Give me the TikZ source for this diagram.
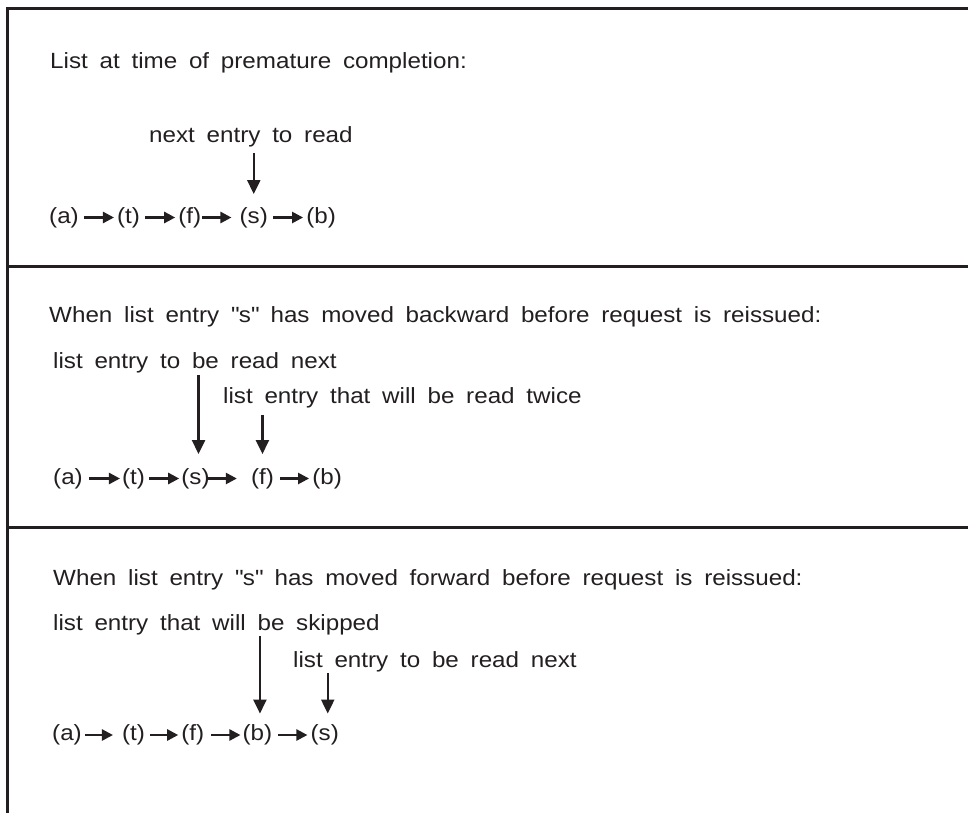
\documentclass[tikz,border=0pt]{standalone}
\usepackage{fontspec}
\setmainfont[FakeStretch=1.1,WordSpace=1.75]{Liberation Sans}
\usetikzlibrary{arrows.meta,positioning}
\definecolor{inkgray}{RGB}{35,31,32}
\tikzset{
 caption/.style={anchor=base west,inner sep=0pt,text=inkgray,font=\fontsize{22}{26}\selectfont},
 entry/.style={inner sep=0pt,text=inkgray,font=\fontsize{22}{26}\selectfont},
 link/.style={-{Triangle[length=11pt,width=11pt]},line width=2.4pt,draw=inkgray,shorten <=5pt,shorten >=3pt},
 pointer/.style={-{Triangle[length=14pt,width=13pt]},line width=2.2pt,draw=inkgray},
 rule/.style={line width=3pt,draw=inkgray}}
\begin{document}
\begin{tikzpicture}[x=1pt,y=-1pt,node distance=38pt]
\useasboundingbox (0,0) rectangle (968,813);
\draw[rule] (7,813) -- (7,9) -- (968,9); \draw[rule] (7,266) -- (968,266); \draw[rule] (7,527) -- (968,527);
% premature completion
\node[caption] (head1) at (50,69) {List at time of premature completion:};
\node[caption] (note1) at (149,143) {next entry to read};
\node[entry,anchor=west] (a1) at (49,217.5) {(a)};
\node[entry,right=of a1] (t1) {(t)};
\node[entry,right=of t1] (f1) {(f)};
\node[entry,right=of f1] (s1) {(s)};
\node[entry,right=of s1] (b1) {(b)};
\draw[link] (a1)--(t1); \draw[link] (t1)--(f1); \draw[link,shorten <=1pt,shorten >=8pt] (f1)--(s1); \draw[link] (s1)--(b1);
\draw[pointer,shorten <=5pt,shorten >=13pt] (note1.south -| s1.north)--(s1.north);
% moved backward
\node[caption] (head2) at (49,322) {When list entry \textquotedbl s\textquotedbl{} has moved backward before request is reissued:};
\node[caption] (note2a) at (53,368) {list entry to be read next};
\node[caption] (note2b) at (223,403) {list entry that will be read twice};
\node[entry,anchor=west] (a2) at (53,478.5) {(a)};
\node[entry,right=39pt of a2] (t2) {(t)};
\node[entry,right=36pt of t2] (s2) {(s)};
\node[entry,right=41pt of s2] (f2) {(f)};
\node[entry,right=of f2] (b2) {(b)};
\draw[link,shorten <=6pt,shorten >=2pt] (a2)--(t2); \draw[link,shorten <=4pt,shorten >=2pt] (t2)--(s2); \draw[link,shorten <=-3pt,shorten >=14pt] (s2)--(f2); \draw[link,shorten <=6pt] (f2)--(b2);
\coordinate (p2a) at ([xshift=3pt]s2.north); \coordinate (p2b) at (f2.north);
\draw[pointer,shorten <=2pt,shorten >=14pt] (note2a.south -| p2a)--(p2a);
\draw[pointer,shorten <=7pt,shorten >=14pt] (note2b.south -| p2b)--(p2b);
% moved forward
\node[caption] (head3) at (53,585) {When list entry \textquotedbl s\textquotedbl{} has moved forward before request is reissued:};
\node[caption] (note3a) at (53,630) {list entry that will be skipped};
\node[caption] (note3b) at (293,667) {list entry to be read next};
\node[entry,anchor=west] (a3) at (52,735) {(a)};
\node[entry,right=40pt of a3] (t3) {(t)};
\node[entry,right=36pt of t3] (f3) {(f)};
\node[entry,right=of f3] (b3) {(b)};
\node[entry,right=of b3] (s3) {(s)};
\draw[link,shorten <=3pt,shorten >=9pt] (a3)--(t3); \draw[link] (t3)--(f3); \draw[link,shorten <=7pt,shorten >=2pt] (f3)--(b3); \draw[link,shorten <=6pt] (b3)--(s3);
\coordinate (p3a) at ([xshift=2.5pt]b3.north); \coordinate (p3b) at ([xshift=3pt]s3.north);
\draw[pointer,shorten <=1pt,shorten >=11pt] (note3a.south -| p3a)--(p3a);
\draw[pointer,shorten <=1.5pt,shorten >=11pt] (note3b.south -| p3b)--(p3b);
\end{tikzpicture}
\end{document}
